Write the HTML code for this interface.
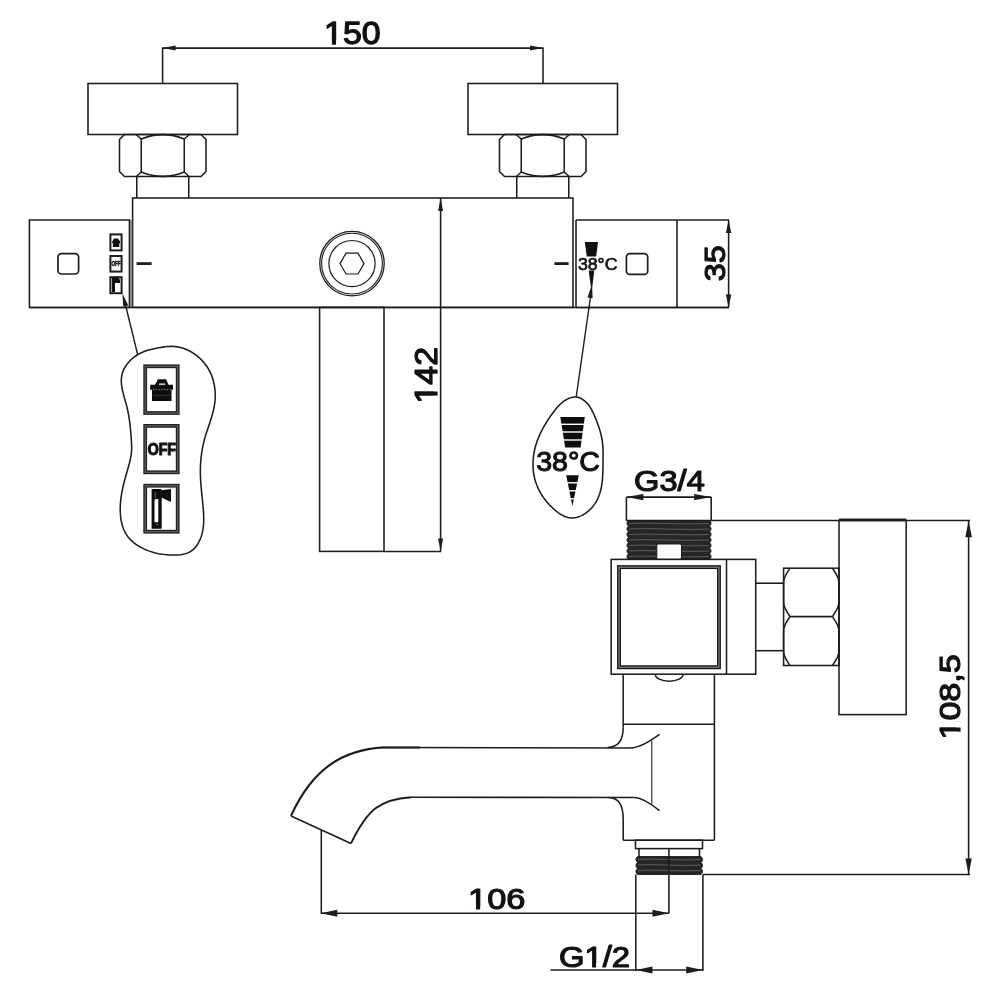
<!DOCTYPE html>
<html><head><meta charset="utf-8"><style>
html,body{margin:0;padding:0;background:#fff;}
svg{display:block;will-change:transform;font-family:"Liberation Sans",sans-serif;}
text{fill:#111;}
</style></head><body>
<svg width="1000" height="1000" viewBox="0 0 1000 1000">
<rect width="1000" height="1000" fill="#fff"/>
<line x1="162.6" y1="48.1" x2="543" y2="48.1" stroke="#1c1c1c" stroke-width="1.55" />
<line x1="162.6" y1="47.4" x2="162.6" y2="83.5" stroke="#1c1c1c" stroke-width="1.55" />
<line x1="543" y1="47.4" x2="543" y2="83.5" stroke="#1c1c1c" stroke-width="1.55" />
<polygon points="162.60,48.10 175.60,45.60 175.60,50.60" fill="#1c1c1c"/>
<polygon points="543.00,48.10 530.00,50.60 530.00,45.60" fill="#1c1c1c"/>
<g transform="translate(324.06,44.16) scale(0.33905,0.31333)"><text x="0" y="0" font-size="100" font-weight="normal" fill="#111" stroke="#111" stroke-width="4" stroke-linejoin="round" stroke-linecap="round">150</text>
<rect x="4" y="-11.5" width="19.2" height="16.5" fill="#fff"/><rect x="35.3" y="-11.5" width="18.5" height="16.5" fill="#fff"/>
</g>
<rect x="88.0" y="83.5" width="149.5" height="51.0" rx="0" stroke="#1c1c1c" stroke-width="1.55" fill="none"/>
<path d="M124.5,134.5 L201.0,134.5 L206.0,139.5 L206.0,171.5 L201.0,176.5 L124.5,176.5 L119.5,171.5 L119.5,139.5 Z" stroke="#1c1c1c" stroke-width="1.55" fill="none" stroke-linejoin="round" />
<line x1="141.25" y1="139" x2="141.25" y2="172" stroke="#1c1c1c" stroke-width="1.55" />
<line x1="184.25" y1="139" x2="184.25" y2="172" stroke="#1c1c1c" stroke-width="1.55" />
<path d="M136.05,134.5 L141.25,139 Q162.75,130.3 184.25,139 L189.45,134.5" stroke="#1c1c1c" stroke-width="1.55" fill="none" stroke-linejoin="round" />
<path d="M136.45,176.5 L141.25,172 Q162.75,180.7 184.25,172 L189.05,176.5" stroke="#1c1c1c" stroke-width="1.55" fill="none" stroke-linejoin="round" />
<line x1="136.75" y1="176.5" x2="136.75" y2="198" stroke="#1c1c1c" stroke-width="1.55" />
<line x1="188.75" y1="176.5" x2="188.75" y2="198" stroke="#1c1c1c" stroke-width="1.55" />
<rect x="468.0" y="83.5" width="149.5" height="51.0" rx="0" stroke="#1c1c1c" stroke-width="1.55" fill="none"/>
<path d="M504.5,134.5 L581.0,134.5 L586.0,139.5 L586.0,171.5 L581.0,176.5 L504.5,176.5 L499.5,171.5 L499.5,139.5 Z" stroke="#1c1c1c" stroke-width="1.55" fill="none" stroke-linejoin="round" />
<line x1="521.25" y1="139" x2="521.25" y2="172" stroke="#1c1c1c" stroke-width="1.55" />
<line x1="564.25" y1="139" x2="564.25" y2="172" stroke="#1c1c1c" stroke-width="1.55" />
<path d="M516.05,134.5 L521.25,139 Q542.75,130.3 564.25,139 L569.45,134.5" stroke="#1c1c1c" stroke-width="1.55" fill="none" stroke-linejoin="round" />
<path d="M516.45,176.5 L521.25,172 Q542.75,180.7 564.25,172 L569.05,176.5" stroke="#1c1c1c" stroke-width="1.55" fill="none" stroke-linejoin="round" />
<line x1="516.75" y1="176.5" x2="516.75" y2="198" stroke="#1c1c1c" stroke-width="1.55" />
<line x1="568.75" y1="176.5" x2="568.75" y2="198" stroke="#1c1c1c" stroke-width="1.55" />
<rect x="132.6" y="198" width="440.4" height="109.4" rx="0" stroke="#1c1c1c" stroke-width="1.55" fill="none"/>
<path d="M129.6,307.4 L29.4,307.4 L29.4,220 L129.6,220 Z" stroke="#1c1c1c" stroke-width="1.55" fill="none" stroke-linejoin="round" />
<line x1="129.6" y1="220" x2="129.6" y2="307.4" stroke="#1c1c1c" stroke-width="1.55" />
<rect x="130" y="220" width="2.2" height="87.4" fill="#8a8a8a"/>
<line x1="29.4" y1="307.4" x2="729" y2="307.4" stroke="#1c1c1c" stroke-width="1.55" />
<line x1="576" y1="220" x2="576" y2="307.4" stroke="#1c1c1c" stroke-width="1.55" />
<line x1="576" y1="220" x2="729" y2="220" stroke="#1c1c1c" stroke-width="1.55" />
<line x1="576" y1="307.4" x2="729" y2="307.4" stroke="#1c1c1c" stroke-width="1.55" />
<line x1="677" y1="220" x2="677" y2="307.4" stroke="#1c1c1c" stroke-width="1.55" />
<rect x="58" y="253.6" width="20.6" height="20.4" rx="3.5" stroke="#1c1c1c" stroke-width="1.7" fill="none"/>
<rect x="626.4" y="253.6" width="21.3" height="20.8" rx="3.5" stroke="#1c1c1c" stroke-width="1.7" fill="none"/>
<line x1="136.6" y1="263.6" x2="151.6" y2="263.6" stroke="#1c1c1c" stroke-width="2.8" />
<line x1="554.4" y1="263.6" x2="568.6" y2="263.6" stroke="#1c1c1c" stroke-width="2.8" />
<circle cx="352" cy="263.6" r="32.2" stroke="#1c1c1c" stroke-width="1.3" fill="none"/>
<circle cx="352" cy="263.6" r="30.4" stroke="#1c1c1c" stroke-width="1.1" fill="none"/>
<circle cx="352" cy="263.6" r="23.1" stroke="#1c1c1c" stroke-width="1.2" fill="none"/>
<polygon points="364.00,263.60 358.00,273.99 346.00,273.99 340.00,263.60 346.00,253.21 358.00,253.21" stroke="#1c1c1c" stroke-width="1.2" fill="none"/>
<rect x="319.6" y="307.4" width="64.4" height="244.0" rx="0" stroke="#1c1c1c" stroke-width="1.55" fill="none"/>
<line x1="384" y1="551.4" x2="441" y2="551.4" stroke="#1c1c1c" stroke-width="1.55" />
<line x1="440.6" y1="198" x2="440.6" y2="551.4" stroke="#1c1c1c" stroke-width="1.55" />
<polygon points="440.60,198.00 443.10,211.00 438.10,211.00" fill="#1c1c1c"/>
<polygon points="440.60,551.40 438.10,538.40 443.10,538.40" fill="#1c1c1c"/>
<g transform="translate(437.28,403.44) rotate(-90) scale(0.33802,0.31216)"><text x="0" y="0" font-size="100" font-weight="normal" fill="#111" stroke="#111" stroke-width="4" stroke-linejoin="round" stroke-linecap="round">142</text>
<rect x="4" y="-11.5" width="19.2" height="16.5" fill="#fff"/><rect x="35.3" y="-11.5" width="18.5" height="16.5" fill="#fff"/>
</g>
<line x1="728.6" y1="220" x2="728.6" y2="307.4" stroke="#1c1c1c" stroke-width="1.55" />
<polygon points="728.60,220.00 731.30,233.00 725.90,233.00" fill="#1c1c1c"/>
<polygon points="728.60,307.40 725.90,294.40 731.30,294.40" fill="#1c1c1c"/>
<text x="0" y="0" font-size="100" font-weight="normal" fill="#111" stroke="#111" stroke-width="4" stroke-linejoin="round" stroke-linecap="round" transform="translate(724.70,281.14) rotate(-90) scale(0.32243,0.30133)">35</text>
<rect x="110.4" y="234.4" width="11.2" height="16.0" rx="0" stroke="#1c1c1c" stroke-width="2" fill="none"/>
<rect x="110.4" y="256" width="11.2" height="15.6" rx="0" stroke="#1c1c1c" stroke-width="2" fill="none"/>
<rect x="110.4" y="277.2" width="11.2" height="16.0" rx="0" stroke="#1c1c1c" stroke-width="2" fill="none"/>
<path d="M114,238.6 h3.9 l1.8,2.3 h0.3 v2.3 h-0.7 v3.7 h-6.4 v-3.7 h-0.7 v-2.3 h0.3 Z" fill="#111"/>
<text x="0" y="0" font-size="100" font-weight="bold" fill="#111" stroke="#111" stroke-width="8" stroke-linejoin="round" stroke-linecap="round" transform="translate(111.40,266.46) scale(0.04600,0.06835)">OFF</text>
<path d="M112,278 h3 v14 h-3 Z M115,278 h4 l1,2 v3 h-5 Z" fill="#111"/>
<polygon points="584.8,242 598,242 591.6,292" fill="#111"/>
<rect x="578" y="256.5" width="40" height="14" fill="#fff"/>
<text x="0" y="0" font-size="100" font-weight="normal" fill="#111" stroke="#111" stroke-width="4" stroke-linejoin="round" stroke-linecap="round" transform="translate(577.90,269.74) scale(0.17740,0.17000)">38°C</text>
<line x1="125.6" y1="305.5" x2="137.8" y2="355" stroke="#1c1c1c" stroke-width="1.4" />
<polygon points="122.40,293.60 128.30,305.47 123.28,306.83" fill="#1c1c1c"/>
<line x1="590.5" y1="297" x2="576.2" y2="397" stroke="#1c1c1c" stroke-width="1.4" />
<polygon points="592.00,284.00 592.63,298.23 587.48,297.50" fill="#1c1c1c"/>
<path d="M137.52,354.76 L139.45,353.66 L141.44,352.68 L143.47,351.80 L145.54,351.01 L147.65,350.31 L149.78,349.69 L151.94,349.14 L154.12,348.64 L156.31,348.21 L158.51,347.81 L160.72,347.45 L162.92,347.13 L165.11,346.84 L167.30,346.60 L169.49,346.45 L171.67,346.39 L173.84,346.44 L176.00,346.63 L178.15,346.95 L180.28,347.41 L182.39,347.98 L184.47,348.68 L186.52,349.50 L188.54,350.43 L190.51,351.46 L192.44,352.59 L194.31,353.82 L196.13,355.14 L197.89,356.55 L199.58,358.03 L201.20,359.60 L202.75,361.24 L204.22,362.94 L205.60,364.70 L206.89,366.53 L208.08,368.40 L209.18,370.32 L210.18,372.29 L211.09,374.29 L211.91,376.34 L212.63,378.41 L213.26,380.52 L213.80,382.65 L214.25,384.80 L214.62,386.97 L214.90,389.15 L215.09,391.35 L215.20,393.55 L215.23,395.75 L215.18,397.96 L215.05,400.15 L214.84,402.35 L214.55,404.52 L214.18,406.69 L213.75,408.84 L213.26,410.98 L212.72,413.12 L212.13,415.24 L211.51,417.36 L210.85,419.47 L210.17,421.58 L209.47,423.69 L208.76,425.80 L208.05,427.90 L207.35,430.01 L206.66,432.13 L205.98,434.25 L205.33,436.37 L204.72,438.51 L204.15,440.65 L203.61,442.80 L203.12,444.96 L202.67,447.13 L202.27,449.31 L201.90,451.49 L201.57,453.67 L201.28,455.86 L201.04,458.06 L200.83,460.25 L200.66,462.45 L200.52,464.65 L200.43,466.85 L200.37,469.04 L200.35,471.24 L200.37,473.43 L200.42,475.62 L200.51,477.81 L200.62,480.00 L200.76,482.18 L200.92,484.37 L201.10,486.56 L201.29,488.75 L201.50,490.94 L201.71,493.13 L201.94,495.33 L202.17,497.53 L202.39,499.74 L202.62,501.95 L202.83,504.17 L203.04,506.39 L203.24,508.63 L203.41,510.86 L203.55,513.10 L203.65,515.33 L203.71,517.56 L203.72,519.79 L203.67,522.01 L203.55,524.21 L203.36,526.41 L203.09,528.58 L202.72,530.74 L202.26,532.88 L201.70,535.00 L201.03,537.09 L200.24,539.16 L199.32,541.18 L198.28,543.14 L197.11,545.01 L195.81,546.77 L194.38,548.40 L192.82,549.87 L191.11,551.16 L189.26,552.25 L187.29,553.13 L185.20,553.82 L183.02,554.34 L180.77,554.71 L178.48,554.95 L176.16,555.07 L173.85,555.10 L171.55,555.05 L169.30,554.94 L167.11,554.79 L164.96,554.60 L162.84,554.34 L160.73,554.03 L158.64,553.65 L156.53,553.20 L154.41,552.67 L152.27,552.06 L150.14,551.38 L148.02,550.62 L145.92,549.77 L143.85,548.85 L141.82,547.85 L139.83,546.76 L137.91,545.60 L136.05,544.35 L134.26,543.03 L132.56,541.62 L130.96,540.12 L129.46,538.55 L128.07,536.89 L126.81,535.14 L125.67,533.32 L124.66,531.42 L123.77,529.45 L122.99,527.42 L122.31,525.34 L121.74,523.20 L121.27,521.04 L120.90,518.83 L120.61,516.61 L120.40,514.36 L120.27,512.10 L120.22,509.84 L120.23,507.58 L120.31,505.34 L120.45,503.11 L120.64,500.89 L120.88,498.70 L121.17,496.51 L121.51,494.35 L121.89,492.19 L122.31,490.04 L122.76,487.90 L123.24,485.77 L123.75,483.65 L124.29,481.53 L124.85,479.41 L125.43,477.29 L126.03,475.18 L126.63,473.06 L127.25,470.94 L127.86,468.81 L128.47,466.68 L129.06,464.54 L129.61,462.40 L130.12,460.24 L130.58,458.08 L130.97,455.90 L131.28,453.71 L131.51,451.51 L131.64,449.29 L131.67,447.05 L131.62,444.81 L131.51,442.57 L131.36,440.34 L131.20,438.12 L131.03,435.91 L130.86,433.72 L130.68,431.55 L130.48,429.38 L130.27,427.22 L130.04,425.07 L129.78,422.93 L129.50,420.78 L129.20,418.64 L128.86,416.50 L128.48,414.35 L128.07,412.19 L127.62,410.03 L127.13,407.86 L126.58,405.67 L126.00,403.48 L125.38,401.27 L124.75,399.06 L124.13,396.84 L123.53,394.63 L122.97,392.41 L122.46,390.20 L122.02,388.00 L121.68,385.82 L121.43,383.64 L121.32,381.49 L121.33,379.36 L121.51,377.25 L121.86,375.17 L122.39,373.12 L123.10,371.11 L123.97,369.15 L125.00,367.24 L126.18,365.38 L127.49,363.60 L128.92,361.90 L130.46,360.27 L132.10,358.74 L133.83,357.31 L135.64,355.98 Z" stroke="#1c1c1c" stroke-width="1.55" fill="none" stroke-linejoin="round" />
<rect x="145.2" y="366.29999999999995" width="32.5" height="46.7" rx="0" stroke="#222" stroke-width="3.8" fill="none"/>
<rect x="145.2" y="366.29999999999995" width="32.5" height="46.7" rx="0" stroke="#6a6a6a" stroke-width="1.0" fill="none"/>
<rect x="145.2" y="425.9" width="32.5" height="46.4" rx="0" stroke="#222" stroke-width="3.8" fill="none"/>
<rect x="145.2" y="425.9" width="32.5" height="46.4" rx="0" stroke="#6a6a6a" stroke-width="1.0" fill="none"/>
<rect x="145.2" y="485.7" width="32.5" height="46.0" rx="0" stroke="#222" stroke-width="3.8" fill="none"/>
<rect x="145.2" y="485.7" width="32.5" height="46.0" rx="0" stroke="#6a6a6a" stroke-width="1.0" fill="none"/>
<path d="M158,379.3 h8.2 l2.2,5.4 h4.6 v5 h-1.5 v11.2 h-19.5 v-11.2 h-1.8 v-5 h4.8 Z" fill="#0d0d0d"/>
<path d="M159.2,383.6 h5.8 l0.4,1.2 h-6.6 Z" fill="#fff"/>
<line x1="153" y1="389.6" x2="171" y2="389.6" stroke="#ddd" stroke-width="0.7" stroke-dasharray="1.2 1.6"/>
<line x1="153" y1="395.3" x2="171" y2="395.3" stroke="#666" stroke-width="0.5"/>
<text x="0" y="0" font-size="100" font-weight="bold" fill="#111" stroke="#111" stroke-width="7" stroke-linejoin="round" stroke-linecap="round" transform="translate(147.63,455.29) scale(0.14171,0.15769)">OFF</text>
<rect x="151.6" y="488.9" width="10.1" height="39.8" rx="0.8" fill="#0d0d0d"/>
<path d="M154.5,500 L155.5,499 L158.3,499 L158.3,522.3 L154.5,522.3 Z" fill="#fff"/>
<path d="M155.2,492 L155.2,497.5" stroke="#777" stroke-width="0.8"/>
<path d="M161.2,490.2 L171,488.9 L171,502.1 L161.2,497.5 Z" fill="#0d0d0d"/>
<path d="M156,524.5 h2.5" stroke="#666" stroke-width="1"/>
<path d="M576.40,397.07 L577.60,397.26 L578.78,397.57 L579.93,397.99 L581.06,398.51 L582.15,399.12 L583.21,399.81 L584.22,400.57 L585.19,401.38 L586.11,402.24 L586.99,403.14 L587.82,404.08 L588.60,405.06 L589.34,406.07 L590.05,407.12 L590.72,408.19 L591.36,409.28 L591.98,410.40 L592.56,411.54 L593.12,412.69 L593.66,413.86 L594.19,415.04 L594.70,416.23 L595.19,417.42 L595.68,418.62 L596.16,419.82 L596.63,421.02 L597.09,422.22 L597.54,423.43 L597.98,424.63 L598.40,425.84 L598.81,427.05 L599.21,428.26 L599.59,429.47 L599.95,430.69 L600.30,431.90 L600.63,433.12 L600.94,434.34 L601.23,435.55 L601.50,436.78 L601.75,438.00 L601.98,439.22 L602.18,440.44 L602.36,441.67 L602.52,442.90 L602.65,444.12 L602.76,445.35 L602.85,446.58 L602.92,447.82 L602.97,449.05 L603.01,450.29 L603.04,451.53 L603.06,452.77 L603.06,454.02 L603.06,455.27 L603.06,456.53 L603.04,457.78 L603.03,459.05 L603.02,460.31 L603.00,461.58 L602.99,462.86 L602.98,464.14 L602.96,465.42 L602.95,466.71 L602.93,467.99 L602.90,469.28 L602.87,470.57 L602.83,471.86 L602.79,473.15 L602.73,474.44 L602.66,475.72 L602.58,477.01 L602.49,478.29 L602.38,479.56 L602.26,480.84 L602.11,482.10 L601.95,483.36 L601.77,484.62 L601.57,485.87 L601.35,487.11 L601.10,488.34 L600.82,489.56 L600.52,490.78 L600.20,491.98 L599.84,493.17 L599.45,494.36 L599.04,495.53 L598.59,496.68 L598.10,497.83 L597.59,498.96 L597.03,500.07 L596.44,501.17 L595.81,502.25 L595.14,503.32 L594.42,504.37 L593.67,505.40 L592.87,506.41 L592.04,507.40 L591.17,508.36 L590.27,509.30 L589.33,510.20 L588.36,511.06 L587.36,511.89 L586.34,512.67 L585.29,513.42 L584.22,514.11 L583.13,514.76 L582.02,515.36 L580.90,515.90 L579.75,516.38 L578.60,516.80 L577.44,517.16 L576.26,517.45 L575.08,517.68 L573.89,517.83 L572.71,517.91 L571.52,517.91 L570.33,517.83 L569.14,517.66 L567.96,517.42 L566.79,517.09 L565.62,516.70 L564.46,516.24 L563.31,515.71 L562.17,515.12 L561.04,514.48 L559.93,513.79 L558.83,513.06 L557.75,512.29 L556.69,511.48 L555.64,510.64 L554.62,509.77 L553.61,508.88 L552.63,507.97 L551.68,507.05 L550.75,506.13 L549.84,505.20 L548.96,504.27 L548.11,503.34 L547.29,502.40 L546.49,501.46 L545.71,500.51 L544.96,499.55 L544.22,498.58 L543.51,497.59 L542.82,496.58 L542.14,495.55 L541.48,494.50 L540.84,493.44 L540.22,492.35 L539.62,491.24 L539.04,490.12 L538.48,488.98 L537.95,487.83 L537.44,486.67 L536.95,485.49 L536.49,484.30 L536.06,483.10 L535.66,481.90 L535.29,480.68 L534.94,479.46 L534.63,478.24 L534.34,477.01 L534.08,475.77 L533.85,474.53 L533.65,473.28 L533.48,472.04 L533.33,470.78 L533.21,469.53 L533.12,468.28 L533.06,467.02 L533.02,465.76 L533.00,464.50 L533.01,463.24 L533.05,461.98 L533.11,460.72 L533.20,459.46 L533.31,458.21 L533.44,456.95 L533.60,455.70 L533.78,454.46 L533.98,453.21 L534.20,451.97 L534.45,450.73 L534.72,449.50 L535.01,448.28 L535.32,447.06 L535.65,445.84 L536.00,444.64 L536.38,443.44 L536.77,442.24 L537.18,441.06 L537.61,439.88 L538.06,438.71 L538.52,437.54 L539.00,436.38 L539.50,435.23 L540.02,434.09 L540.55,432.95 L541.10,431.82 L541.67,430.69 L542.24,429.57 L542.84,428.46 L543.44,427.35 L544.07,426.25 L544.70,425.15 L545.34,424.07 L546.00,422.98 L546.67,421.90 L547.36,420.83 L548.05,419.77 L548.75,418.71 L549.46,417.65 L550.19,416.60 L550.92,415.56 L551.66,414.52 L552.41,413.49 L553.17,412.46 L553.93,411.44 L554.71,410.43 L555.50,409.43 L556.31,408.44 L557.13,407.48 L557.97,406.53 L558.83,405.61 L559.72,404.71 L560.64,403.85 L561.58,403.01 L562.55,402.21 L563.55,401.45 L564.59,400.72 L565.67,400.04 L566.78,399.41 L567.93,398.83 L569.10,398.31 L570.30,397.87 L571.51,397.50 L572.74,397.23 L573.96,397.07 L575.19,397.01 Z" stroke="#1c1c1c" stroke-width="1.55" fill="none" stroke-linejoin="round" />
<polygon points="560.3,416.9 584.8,416.9 580.6,447.4 565.2,447.4" fill="#0d0d0d"/>
<line x1="558" y1="424.3" x2="588" y2="424.3" stroke="#fff" stroke-width="1.4" />
<line x1="558" y1="432" x2="588" y2="432" stroke="#fff" stroke-width="1.4" />
<line x1="558" y1="440" x2="588" y2="440" stroke="#fff" stroke-width="1.4" />
<polygon points="566.2,475.2 578.8,475.2 572.4,506" fill="#0d0d0d"/>
<line x1="560" y1="482.8" x2="585" y2="482.8" stroke="#fff" stroke-width="1.4" />
<line x1="560" y1="490.8" x2="585" y2="490.8" stroke="#fff" stroke-width="1.4" />
<line x1="560" y1="498.8" x2="585" y2="498.8" stroke="#fff" stroke-width="1.4" />
<text x="0" y="0" font-size="100" font-weight="normal" fill="#111" stroke="#111" stroke-width="4" stroke-linejoin="round" stroke-linecap="round" transform="translate(536.23,471.38) scale(0.28519,0.27467)">38°C</text>
<line x1="626.4" y1="497.1" x2="711.2" y2="497.1" stroke="#1c1c1c" stroke-width="1.55" />
<polygon points="626.40,497.10 643.40,493.90 643.40,500.30" fill="#1c1c1c"/>
<polygon points="711.20,497.10 694.20,500.30 694.20,493.90" fill="#1c1c1c"/>
<line x1="626.4" y1="497.1" x2="626.4" y2="520.8" stroke="#1c1c1c" stroke-width="1.55" />
<line x1="711.2" y1="497.1" x2="711.2" y2="520.8" stroke="#1c1c1c" stroke-width="1.55" />
<text x="0" y="0" font-size="100" font-weight="normal" fill="#111" stroke="#111" stroke-width="4" stroke-linejoin="round" stroke-linecap="round" transform="translate(634.12,490.71) scale(0.32629,0.29677)">G3/4</text>
<path d="M628.5,520.5 L709.5,520.5 Q712.6,523.27 709.5,526.04 Q712.6,528.81 709.5,531.59 Q712.6,534.36 709.5,537.13 Q712.6,539.90 709.5,542.67 Q712.6,545.44 709.5,548.21 Q712.6,550.99 709.5,553.76 Q712.6,556.53 709.5,559.30 L628.5,559.3 Q625.4,556.53 628.5,553.76 Q625.4,550.99 628.5,548.21 Q625.4,545.44 628.5,542.67 Q625.4,539.90 628.5,537.13 Q625.4,534.36 628.5,531.59 Q625.4,528.81 628.5,526.04 Q625.4,523.27 628.5,520.50 Z" fill="#262626" stroke="#111" stroke-width="0.9"/>
<path d="M629,523.5 C652.2,522.3 677.4,524.7 709,523.5" stroke="#5c5c5c" stroke-width="1.0" fill="none" stroke-linejoin="round" />
<path d="M629,529.0 C652.2,527.8 677.4,530.2 709,529.0" stroke="#5c5c5c" stroke-width="1.0" fill="none" stroke-linejoin="round" />
<path d="M629,534.5 C652.2,533.3 677.4,535.7 709,534.5" stroke="#5c5c5c" stroke-width="1.0" fill="none" stroke-linejoin="round" />
<path d="M629,540.0 C652.2,538.8 677.4,541.2 709,540.0" stroke="#5c5c5c" stroke-width="1.0" fill="none" stroke-linejoin="round" />
<path d="M629,545.5 C652.2,544.3 677.4,546.7 709,545.5" stroke="#5c5c5c" stroke-width="1.0" fill="none" stroke-linejoin="round" />
<path d="M629,551.0 C652.2,549.8 677.4,552.2 709,551.0" stroke="#5c5c5c" stroke-width="1.0" fill="none" stroke-linejoin="round" />
<path d="M629,556.5 C652.2,555.3 677.4,557.7 709,556.5" stroke="#5c5c5c" stroke-width="1.0" fill="none" stroke-linejoin="round" />
<rect x="656.8" y="544" width="24.7" height="15.3" rx="1.5" fill="#fff" stroke="#1a1a1a" stroke-width="1"/>
<line x1="626.4" y1="520.5" x2="970" y2="520.5" stroke="#1c1c1c" stroke-width="1.55" />
<rect x="611.2" y="559.4" width="144.5" height="114.8" rx="0" stroke="#1c1c1c" stroke-width="1.55" fill="none"/>
<line x1="726.5" y1="559.4" x2="726.5" y2="674.2" stroke="#1c1c1c" stroke-width="1.55" />
<rect x="619.0" y="567.1" width="100.0" height="100.2" rx="0" stroke="#8a8a8a" stroke-width="3.6" fill="none"/>
<rect x="617.8" y="565.9" width="102.4" height="102.6" rx="0" stroke="#111" stroke-width="1.3" fill="none"/>
<rect x="620.3" y="568.4" width="97.4" height="97.6" rx="0" stroke="#111" stroke-width="1.3" fill="none"/>
<line x1="755.7" y1="583.2" x2="783.6" y2="583.2" stroke="#1c1c1c" stroke-width="1.55" />
<line x1="755.7" y1="650.7" x2="783.6" y2="650.7" stroke="#1c1c1c" stroke-width="1.55" />
<rect x="783.6" y="568.2" width="55.4" height="97.3" rx="0" stroke="#1c1c1c" stroke-width="1.55" fill="none"/>
<line x1="790" y1="616.6" x2="832.4" y2="616.6" stroke="#1c1c1c" stroke-width="1.55" />
<path d="M790,568.2 C786.5,573.2 783.6,577.2 783.6,582.2 L783.6,602.6 C783.6,607.6 786.5,611.6 790,616.6" stroke="#1c1c1c" stroke-width="1.55" fill="none" stroke-linejoin="round" />
<path d="M832.4,568.2 C835.9,573.2 838.9,577.2 838.9,582.2 L838.9,602.6 C838.9,607.6 835.9,611.6 832.4,616.6" stroke="#1c1c1c" stroke-width="1.55" fill="none" stroke-linejoin="round" />
<path d="M790,616.6 C786.5,621.6 783.6,625.6 783.6,630.6 L783.6,651.5 C783.6,656.5 786.5,660.5 790,665.5" stroke="#1c1c1c" stroke-width="1.55" fill="none" stroke-linejoin="round" />
<path d="M832.4,616.6 C835.9,621.6 838.9,625.6 838.9,630.6 L838.9,651.5 C838.9,656.5 835.9,660.5 832.4,665.5" stroke="#1c1c1c" stroke-width="1.55" fill="none" stroke-linejoin="round" />
<rect x="839" y="520.5" width="67.2" height="194.1" rx="0" stroke="#1c1c1c" stroke-width="1.55" fill="none"/>
<line x1="839" y1="519.8" x2="906.2" y2="519.8" stroke="#1c1c1c" stroke-width="2.6" />
<path d="M655.2,674.2 A14,7 0 0 0 683.2,674.2" stroke="#1c1c1c" stroke-width="1.55" fill="none" stroke-linejoin="round" />
<line x1="714.4" y1="674.2" x2="714.4" y2="840.2" stroke="#1c1c1c" stroke-width="1.55" />
<line x1="623.2" y1="674.2" x2="623.2" y2="727.6" stroke="#1c1c1c" stroke-width="1.55" />
<line x1="623.2" y1="724.3" x2="714.4" y2="724.3" stroke="#1c1c1c" stroke-width="1.55" />
<path d="M623.2,727.6 C623.2,740 618,747.3 607.6,747.6" stroke="#1c1c1c" stroke-width="1.55" fill="none" stroke-linejoin="round" />
<path d="M384,747.4 L629.7,748 C640,747.8 650,741 659.6,734.4" stroke="#1c1c1c" stroke-width="1.55" fill="none" stroke-linejoin="round" />
<path d="M411.2,797.3 L634.9,797.5 C642,798 650,803 659.6,810.6" stroke="#1c1c1c" stroke-width="1.55" fill="none" stroke-linejoin="round" />
<path d="M608.7,797.5 C618,797.7 623.2,805 623.2,819 L623.2,840.2" stroke="#1c1c1c" stroke-width="1.55" fill="none" stroke-linejoin="round" />
<line x1="651.8" y1="740.8" x2="651.8" y2="804.3" stroke="#333" stroke-width="1.2" />
<path d="M384,747.4 C343.16,749.51 312.53,768.43 291,815.9" stroke="#1c1c1c" stroke-width="2.1" fill="none" stroke-linejoin="round" />
<path d="M291,815.9 L351,843.4" stroke="#1c1c1c" stroke-width="1.6" fill="none" stroke-linejoin="round" />
<path d="M351,843.4 C367.21,810.11 379.35,799.17 411.2,797.2" stroke="#1c1c1c" stroke-width="1.9" fill="none" stroke-linejoin="round" />
<path d="M384,747.4 L420,747.4" stroke="#1c1c1c" stroke-width="2.0" fill="none" stroke-linejoin="round" />
<line x1="623.2" y1="840.2" x2="714.4" y2="840.2" stroke="#1c1c1c" stroke-width="1.55" />
<rect x="635.5" y="840.2" width="67.0" height="8.4" rx="0" stroke="#1c1c1c" stroke-width="1.55" fill="none"/>
<line x1="639" y1="848.6" x2="639" y2="856.6" stroke="#1c1c1c" stroke-width="1.55" />
<line x1="699.5" y1="848.6" x2="699.5" y2="856.6" stroke="#1c1c1c" stroke-width="1.55" />
<path d="M637.5,856.6 L701.0,856.6 Q704.1,859.57 701.0,862.53 Q704.1,865.50 701.0,868.47 Q704.1,871.43 701.0,874.40 L637.5,874.4 Q634.4,871.43 637.5,868.47 Q634.4,865.50 637.5,862.53 Q634.4,859.57 637.5,856.60 Z" fill="#262626" stroke="#111" stroke-width="0.9"/>
<path d="M638,859.5 C655.95,858.3 675.9,860.7 700.5,859.5" stroke="#5c5c5c" stroke-width="1.0" fill="none" stroke-linejoin="round" />
<path d="M638,865.0 C655.95,863.8 675.9,866.2 700.5,865.0" stroke="#5c5c5c" stroke-width="1.0" fill="none" stroke-linejoin="round" />
<path d="M638,870.5 C655.95,869.3 675.9,871.7 700.5,870.5" stroke="#5c5c5c" stroke-width="1.0" fill="none" stroke-linejoin="round" />
<line x1="668.9" y1="848.6" x2="668.9" y2="913.3" stroke="#1c1c1c" stroke-width="1.55" />
<line x1="635.8" y1="874.4" x2="635.8" y2="971" stroke="#1c1c1c" stroke-width="1.55" />
<line x1="702.9" y1="874.4" x2="702.9" y2="971" stroke="#1c1c1c" stroke-width="1.55" />
<line x1="702.9" y1="874.5" x2="970" y2="874.5" stroke="#1c1c1c" stroke-width="1.55" />
<line x1="968.6" y1="520.7" x2="968.6" y2="874.5" stroke="#1c1c1c" stroke-width="1.55" />
<polygon points="968.60,520.70 971.90,537.20 965.30,537.20" fill="#1c1c1c"/>
<polygon points="968.60,874.50 965.40,858.50 971.80,858.50" fill="#1c1c1c"/>
<g transform="translate(959.91,739.56) rotate(-90) scale(0.34096,0.29730)"><text x="0" y="0" font-size="100" font-weight="normal" fill="#111" stroke="#111" stroke-width="4" stroke-linejoin="round" stroke-linecap="round">108,5</text>
<rect x="4" y="-11.5" width="19.2" height="16.5" fill="#fff"/><rect x="35.3" y="-11.5" width="18.5" height="16.5" fill="#fff"/>
</g>
<line x1="320.8" y1="913.3" x2="669" y2="913.3" stroke="#1c1c1c" stroke-width="1.55" />
<polygon points="320.80,913.30 337.30,909.80 337.30,916.80" fill="#1c1c1c"/>
<polygon points="669.00,913.30 652.50,916.80 652.50,909.80" fill="#1c1c1c"/>
<line x1="321.3" y1="830" x2="321.3" y2="913.3" stroke="#1c1c1c" stroke-width="1.55" />
<g transform="translate(468.02,909.30) scale(0.34395,0.29867)"><text x="0" y="0" font-size="100" font-weight="normal" fill="#111" stroke="#111" stroke-width="4" stroke-linejoin="round" stroke-linecap="round">106</text>
<rect x="4" y="-11.5" width="19.2" height="16.5" fill="#fff"/><rect x="35.3" y="-11.5" width="18.5" height="16.5" fill="#fff"/>
</g>
<line x1="550.4" y1="970" x2="702.9" y2="970" stroke="#1c1c1c" stroke-width="1.55" />
<polygon points="635.80,970.00 652.50,966.50 652.50,973.50" fill="#1c1c1c"/>
<polygon points="702.90,970.00 686.20,973.50 686.20,966.50" fill="#1c1c1c"/>
<g transform="translate(558.92,966.51) scale(0.32827,0.29806)"><text x="0" y="0" font-size="100" font-weight="normal" fill="#111" stroke="#111" stroke-width="4" stroke-linejoin="round" stroke-linecap="round">G1/2</text>
<rect x="81.8" y="-11.5" width="19.2" height="16.5" fill="#fff"/><rect x="113.1" y="-11.5" width="18.5" height="16.5" fill="#fff"/>
</g>
</svg></body></html>
